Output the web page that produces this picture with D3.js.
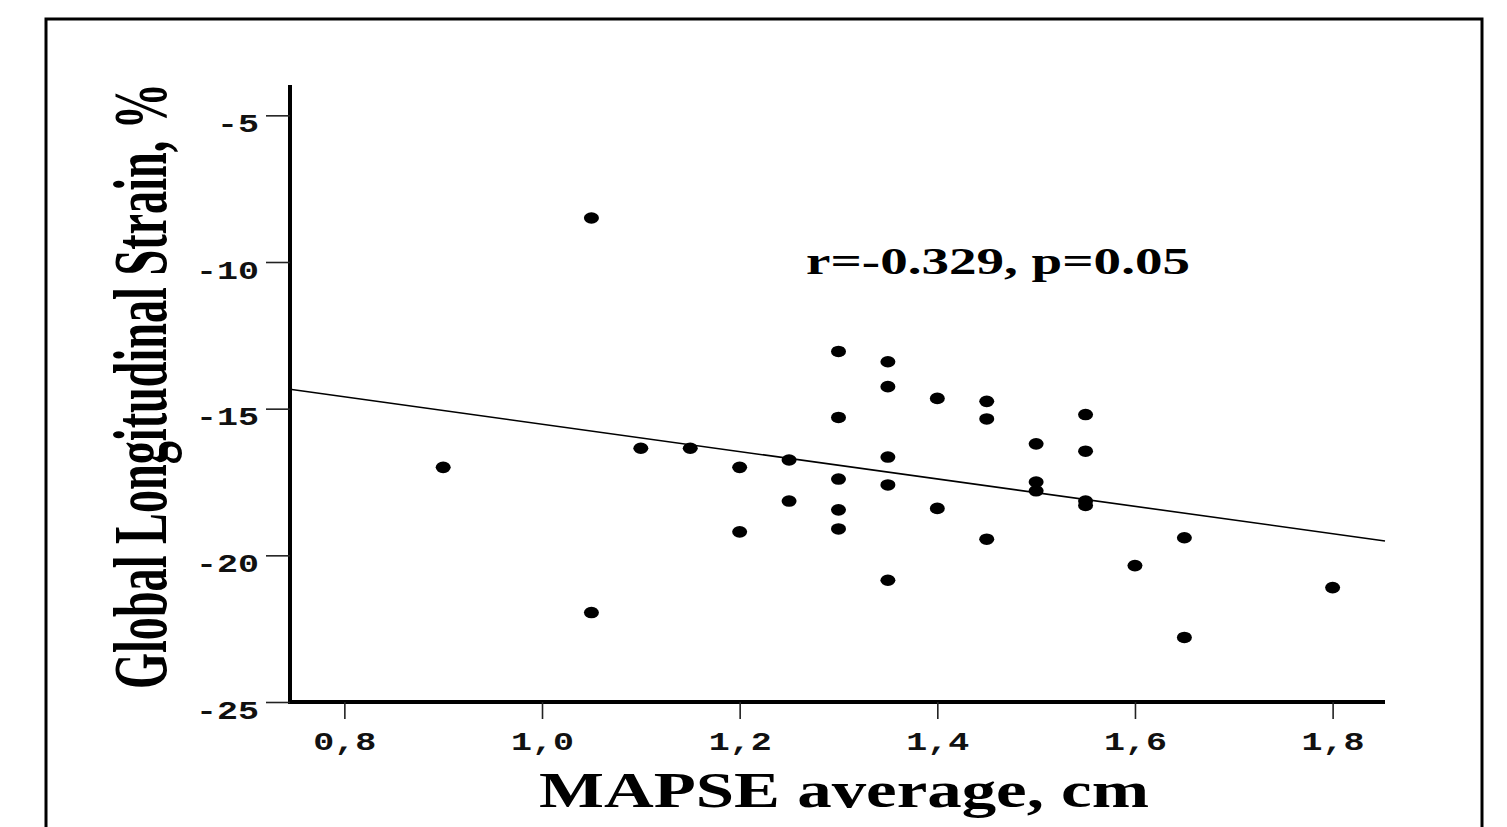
<!DOCTYPE html>
<html>
<head>
<meta charset="utf-8">
<script src="https://cdn.jsdelivr.net/npm/d3@7"></script>
<style>
  body { margin: 0; background: #fff; }
  svg { display: block; }
</style>
</head>
<body>
<div id="chart"></div>
<script>
// MAPSE average (cm) vs Global Longitudinal Strain (%)
const mapse = [0.90, 1.05, 1.05, 1.10, 1.15, 1.20, 1.20, 1.25, 1.25,
  1.30, 1.30, 1.30, 1.30, 1.30, 1.35, 1.35, 1.35, 1.35, 1.35,
  1.40, 1.40, 1.45, 1.45, 1.45, 1.50, 1.50, 1.50,
  1.55, 1.55, 1.55, 1.55, 1.60, 1.65, 1.65, 1.80];
const gls = [-17.0, -8.5, -21.95, -16.35, -16.35, -17.0, -19.2, -16.75, -18.15,
  -13.05, -15.3, -17.4, -18.45, -19.1, -13.4, -14.25, -16.65, -17.6, -20.85,
  -14.65, -18.4, -14.75, -15.35, -19.45, -16.2, -17.5, -17.8,
  -15.2, -16.45, -18.15, -18.3, -20.35, -19.4, -22.8, -21.1];

// fitted line end points
const fitX = [0.745, 1.853];
const fitY = [-14.34, -19.51];

const xTicks = [0.8, 1.0, 1.2, 1.4, 1.6, 1.8];
const yTicks = [-5, -10, -15, -20, -25];
const annotation = "r=-0.329, p=0.05";
const xTitle = "MAPSE average, cm";
const yTitle = "Global Longitudinal Strain, %";

const width = 1507, height = 827;

const svg = d3.select("#chart").append("svg")
  .attr("width", width)
  .attr("height", height);

// frame around the figure
svg.append("rect")
  .attr("x", 46).attr("y", 19)
  .attr("width", 1436).attr("height", 840)
  .attr("fill", "none")
  .attr("stroke", "#000")
  .attr("stroke-width", 3);

const x = d3.scaleLinear().domain([0.745, 1.853]).range([290, 1385]);
const y = d3.scaleLinear().domain([-25, -4]).range([702, 86]);

const fmt = d => d3.format(".1f")(d).replace(".", ",");

const xAxis = svg.append("g")
  .attr("transform", "translate(0,702)")
  .call(d3.axisBottom(x).tickValues(xTicks).tickSize(17).tickSizeOuter(0).tickFormat(fmt));

const yAxis = svg.append("g")
  .attr("transform", "translate(290,0)")
  .call(d3.axisLeft(y).tickValues(yTicks).tickSize(24).tickSizeOuter(0).tickFormat(d => d3.format("d")(d).replace("−", "-")));

[xAxis, yAxis].forEach(g => {
  g.select(".domain").attr("stroke", "#000").attr("stroke-width", 4);
  g.selectAll(".tick line").attr("stroke", "#222").attr("stroke-width", 1.6);
  g.selectAll(".tick text")
    .attr("fill", "#111")
    .style("font-family", "'Liberation Mono', 'DejaVu Sans Mono', monospace")
    .style("font-weight", "bold")
    .style("font-size", "25px")
    .attr("textLength", function() { return this.textContent.length * 21; })
    .attr("lengthAdjust", "spacingAndGlyphs");
});

// extend the domains so the corner closes
xAxis.select(".domain").attr("d", `M${290 - 2},0H${1385}`);
yAxis.select(".domain").attr("d", `M0,${85}V${704}`);

xAxis.selectAll(".tick text").attr("y", 48).attr("dy", null);
yAxis.selectAll(".tick text").attr("x", -31).attr("y", 16).attr("dy", null);

// regression line
svg.append("line")
  .attr("x1", x(fitX[0])).attr("y1", y(fitY[0]))
  .attr("x2", x(fitX[1])).attr("y2", y(fitY[1]))
  .attr("stroke", "#000")
  .attr("stroke-width", 1.6);

// points
svg.append("g")
  .selectAll("ellipse")
  .data(mapse.map((m, i) => ({ m: m, g: gls[i] })))
  .join("ellipse")
  .attr("cx", d => x(d.m))
  .attr("cy", d => y(d.g))
  .attr("rx", 7.5)
  .attr("ry", 5.8)
  .attr("fill", "#000");

const serif = "'Liberation Serif', 'Times New Roman', serif";

svg.append("text")
  .attr("x", 998).attr("y", 274)
  .attr("text-anchor", "middle")
  .style("font-family", serif)
  .style("font-weight", "bold")
  .style("font-size", "38px")
  .attr("textLength", 384)
  .attr("lengthAdjust", "spacingAndGlyphs")
  .text(annotation);

svg.append("text")
  .attr("x", 844).attr("y", 807)
  .attr("text-anchor", "middle")
  .style("font-family", serif)
  .style("font-weight", "bold")
  .style("font-size", "50px")
  .attr("textLength", 610)
  .attr("lengthAdjust", "spacingAndGlyphs")
  .text(xTitle);

// rotated title, glyphs widened across like the reference
svg.append("text")
  .attr("transform", "translate(166,386) rotate(-90) scale(1,1.65)")
  .attr("text-anchor", "middle")
  .style("font-family", serif)
  .style("font-weight", "bold")
  .style("font-size", "46px")
  .attr("textLength", 606)
  .attr("lengthAdjust", "spacingAndGlyphs")
  .text(yTitle);
</script>
</body>
</html>
